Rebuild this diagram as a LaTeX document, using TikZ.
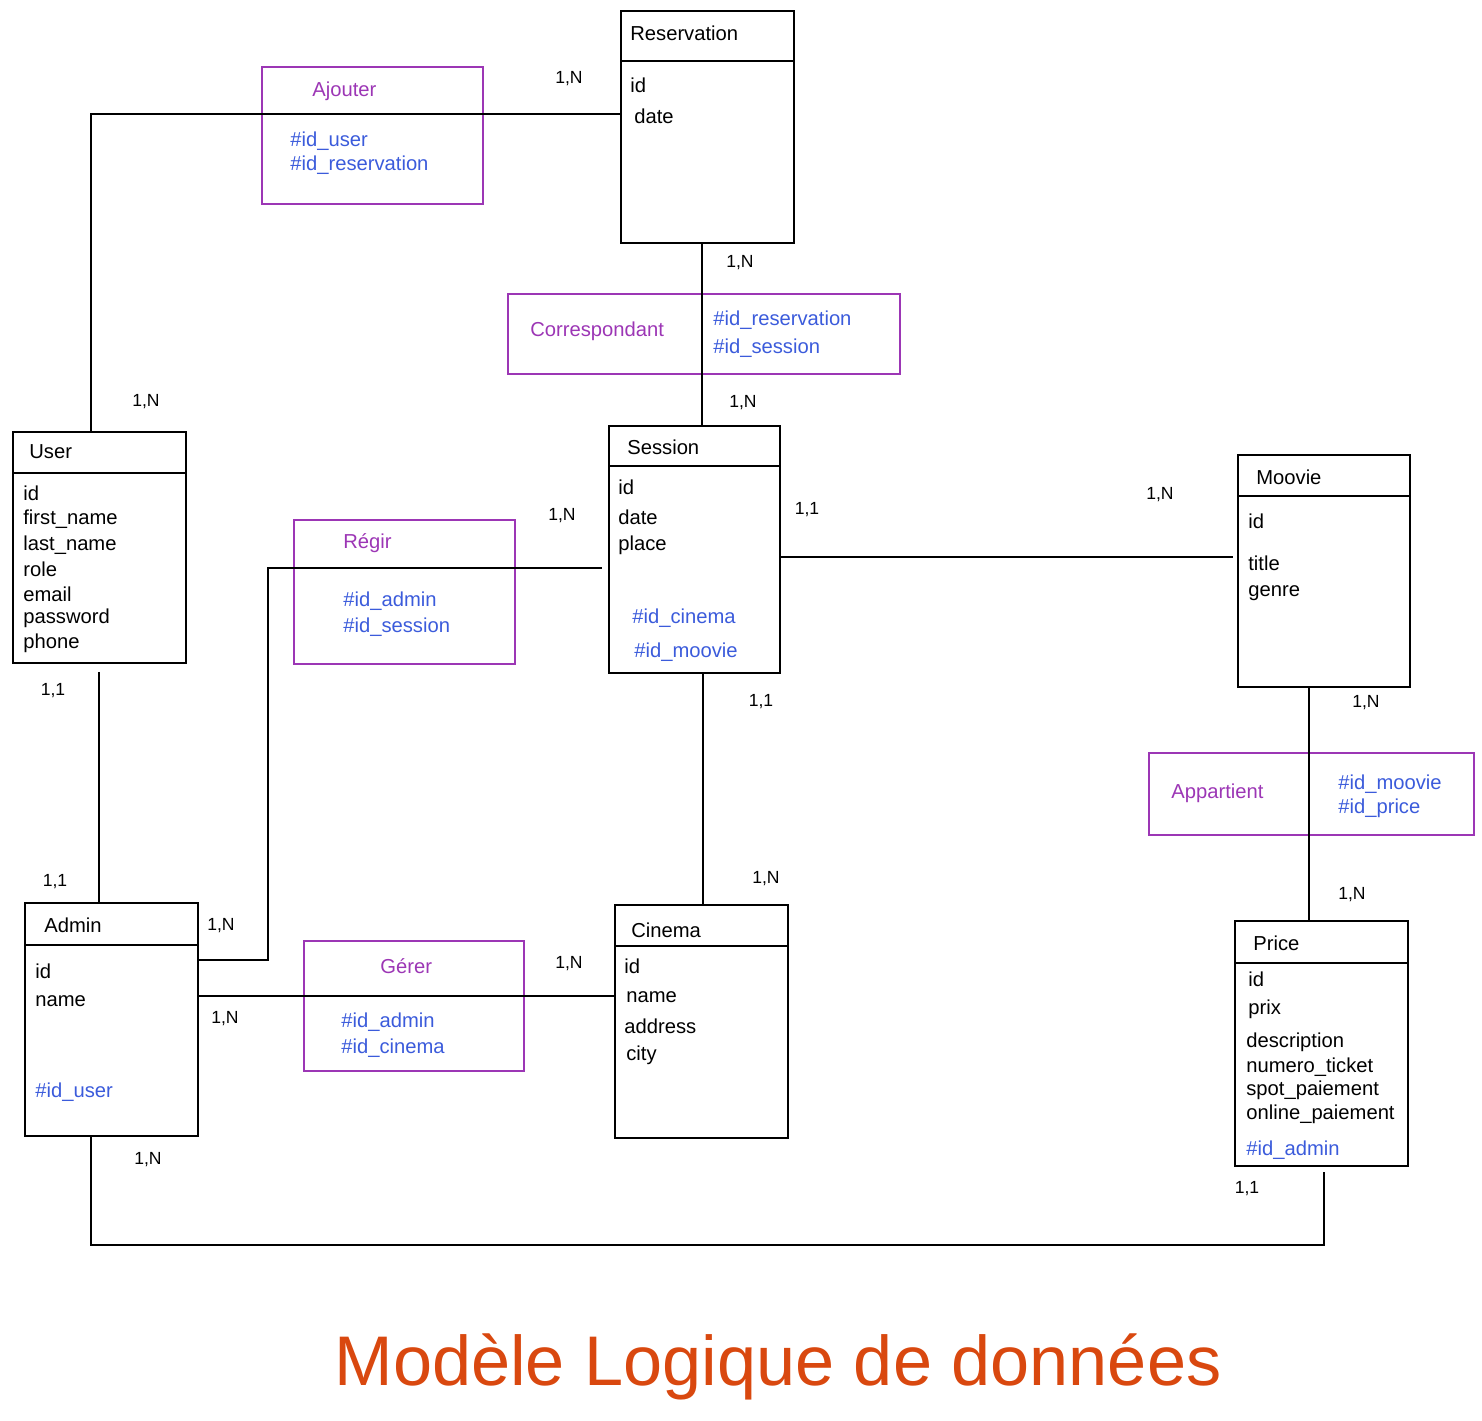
\documentclass[tikz,border=0pt]{standalone}
\usepackage{fontspec}
\setmainfont{Liberation Sans}
\definecolor{grape}{HTML}{9C36B5}
\definecolor{indigo}{HTML}{3B5BDB}
\definecolor{titleor}{HTML}{D9480F}
\tikzset{
  ent/.style={draw=black, line width=1.1pt, anchor=north west, inner sep=0pt},
  asc/.style={draw=grape, line width=0.9pt, anchor=north west, inner sep=0pt},
  txt/.style={anchor=west, font=\fontsize{11.5}{13}\selectfont, inner sep=0pt},
  fk/.style={txt, text=indigo},
  atitle/.style={txt, text=grape},
  card/.style={font=\fontsize{10}{12}\selectfont, inner sep=0pt},
  link/.style={line width=1.1pt},
}
\newcommand\entbox[6]{%
  \node[ent, minimum width={(#4-#2)*0.02cm}, minimum height={(#5-#3)*0.02cm}] (#1) at (#2,#3) {};
  \draw[link] (#1.west |- 0,#6) -- (#1.east |- 0,#6);}
\newcommand\ascbox[5]{%
  \node[asc, minimum width={(#4-#2)*0.02cm}, minimum height={(#5-#3)*0.02cm}] (#1) at (#2,#3) {};}
\begin{document}
\begin{tikzpicture}[x=0.02cm, y=-0.02cm]
\useasboundingbox (0,0) rectangle (1482,1421);

% ---------- entities ----------
\entbox{res}{620}{10}{793}{242}{61}
\node[txt] (res-t) at (630,33) {Reservation};
\node[txt] (res-a1) at (630,85) {id};
\node[txt] (res-a2) at (634,116) {date};

\entbox{user}{12}{431}{185}{662}{473}
\node[txt] (user-t) at (29,452) {User};
\node[txt] (user-a1) at (23,493) {id};
\node[txt] (user-a2) at (23,519) {first\_name};
\node[txt] (user-a3) at (23,545) {last\_name};
\node[txt] (user-a4) at (23,569) {role};
\node[txt] (user-a5) at (23,594) {email};
\node[txt] (user-a6) at (23,618) {password};
\node[txt] (user-a7) at (23,643) {phone};

\entbox{ses}{608}{425}{779}{672}{466}
\node[txt] (ses-t) at (627,447) {Session};
\node[txt] (ses-a1) at (618,487) {id};
\node[txt] (ses-a2) at (618,517) {date};
\node[txt] (ses-a3) at (618,545) {place};
\node[fk] (ses-f1) at (632,618) {\#id\_cinema};
\node[fk] (ses-f2) at (634,652) {\#id\_moovie};

\entbox{moo}{1237}{454}{1409}{686}{496}
\node[txt] (moo-t) at (1256,477) {Moovie};
\node[txt] (moo-a1) at (1248,521) {id};
\node[txt] (moo-a2) at (1248,563) {title};
\node[txt] (moo-a3) at (1248,593) {genre};

\entbox{adm}{24}{902}{197}{1135}{945}
\node[txt] (adm-t) at (44,925) {Admin};
\node[txt] (adm-a1) at (35,971) {id};
\node[txt] (adm-a2) at (35,1001) {name};
\node[fk] (adm-f1) at (35,1092) {\#id\_user};

\entbox{cin}{614}{904}{787}{1137}{946}
\node[txt] (cin-t) at (631,930) {Cinema};
\node[txt] (cin-a1) at (624,966) {id};
\node[txt] (cin-a2) at (626,997) {name};
\node[txt] (cin-a3) at (624,1026) {address};
\node[txt] (cin-a4) at (626,1055) {city};

\entbox{pri}{1234}{920}{1407}{1165}{963}
\node[txt] (pri-t) at (1253,943) {Price};
\node[txt] (pri-a1) at (1248,979) {id};
\node[txt] (pri-a2) at (1248,1009) {prix};
\node[txt] (pri-a3) at (1246,1042) {description};
\node[txt] (pri-a4) at (1246,1067) {numero\_ticket};
\node[txt] (pri-a5) at (1246,1090) {spot\_paiement};
\node[txt] (pri-a6) at (1246,1114) {online\_paiement};
\node[fk] (pri-f1) at (1246,1150) {\#id\_admin};

% ---------- associations ----------
\ascbox{ajo}{261}{66}{482}{203}
\node[atitle] (ajo-t) at (312,91) {Ajouter};
\node[fk] (ajo-f1) at (290,141) {\#id\_user};
\node[fk] (ajo-f2) at (290,165) {\#id\_reservation};

\ascbox{cor}{507}{293}{899}{373}
\node[atitle] (cor-t) at (530,331) {Correspondant};
\node[fk] (cor-f1) at (713,320) {\#id\_reservation};
\node[fk] (cor-f2) at (713,348) {\#id\_session};

\ascbox{reg}{293}{519}{514}{663}
\node[atitle] (reg-t) at (343,543) {Régir};
\node[fk] (reg-f1) at (343,601) {\#id\_admin};
\node[fk] (reg-f2) at (343,627) {\#id\_session};

\ascbox{ger}{303}{940}{523}{1070}
\node[atitle] (ger-t) at (380,966) {Gérer};
\node[fk] (ger-f1) at (341,1022) {\#id\_admin};
\node[fk] (ger-f2) at (341,1048) {\#id\_cinema};

\ascbox{app}{1148}{752}{1473}{834}
\node[atitle] (app-t) at (1171,793) {Appartient};
\node[fk] (app-f1) at (1338,784) {\#id\_moovie};
\node[fk] (app-f2) at (1338,808) {\#id\_price};

% ---------- connectors ----------
\coordinate (rbend) at (268,568);
\coordinate (abend) at (91,1245);
\coordinate (pbend) at (1324,1245);
\draw[link] (user.north -| 91,0) |- (res.west |- 0,114);
\draw[link] (res.south -| 702,0) -- (ses.north -| 702,0);
\draw[link, shorten >=0.08cm] (ses.east |- 0,557) -- (moo.west |- 0,557);
\draw[link, shorten >=0.12cm] (adm.east |- 0,960) -| (rbend) -- (ses.west |- rbend);
\draw[link, shorten <=0.16cm] (user.south -| 99,0) -- (adm.north -| 99,0);
\draw[link] (adm.east |- 0,996) -- (cin.west |- 0,996);
\draw[link] (ses.south -| 703,0) -- (cin.north -| 703,0);
\draw[link] (moo.south -| 1309,0) -- (pri.north -| 1309,0);
\draw[link, shorten >=0.1cm] (adm.south -| abend) -- (abend) -- (pbend) -- (pri.south -| pbend);

% ---------- cardinalities ----------
\node[card] (c1) at (569,79) {1,N};
\node[card] (c2) at (146,402) {1,N};
\node[card] (c3) at (740,263) {1,N};
\node[card] (c4) at (743,403) {1,N};
\node[card] (c5) at (562,516) {1,N};
\node[card] (c6) at (807,510) {1,1};
\node[card] (c7) at (1160,495) {1,N};
\node[card] (c8) at (53,691) {1,1};
\node[card] (c9) at (761,702) {1,1};
\node[card] (c10) at (1366,703) {1,N};
\node[card] (c11) at (55,882) {1,1};
\node[card] (c12) at (766,879) {1,N};
\node[card] (c13) at (1352,895) {1,N};
\node[card] (c14) at (221,926) {1,N};
\node[card] (c15) at (569,964) {1,N};
\node[card] (c16) at (225,1019) {1,N};
\node[card] (c17) at (148,1160) {1,N};
\node[card] (c18) at (1247,1189) {1,1};

% ---------- title ----------
\node[font=\fontsize{40}{48}\selectfont, text=titleor, inner sep=0pt] (title) at (778,1367) {Modèle Logique de données};
\end{tikzpicture}
\end{document}
